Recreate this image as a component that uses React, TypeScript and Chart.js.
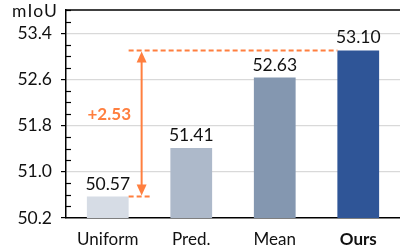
import React, { useEffect, useRef } from 'react';
import { Chart, registerables } from 'chart.js';

Chart.register(...registerables);

const categories = ['Uniform', 'Pred.', 'Mean', 'Ours'];
const values = [50.57, 51.41, 52.63, 53.1];
const barColors = ['#D6DCE5', '#ADB9CA', '#8497B0', '#2F5597'];
const yTicks = [50.2, 51.0, 51.8, 52.6, 53.4];
const yMin = 50.2;
const yMax = 53.8;
const minorStep = 0.2;
const gainLabel = '+2.53';
const yTitle = 'mIoU';
const boldCategory = 'Ours';

const FONT = 'Lato, "Open Sans", sans-serif';
const ORANGE = '#FF7F3F';
const TEXT = '#111111';

const overlayPlugin = {
  id: 'overlay',
  afterDatasetsDraw(chart: any) {
    const { ctx, chartArea } = chart;
    const yScale = chart.scales.y;
    const meta = chart.getDatasetMeta(0);
    ctx.save();

    // top border
    ctx.strokeStyle = '#000';
    ctx.lineWidth = 1.5;
    ctx.beginPath();
    ctx.moveTo(chartArea.left, chartArea.top);
    ctx.lineTo(chartArea.right, chartArea.top);
    ctx.stroke();

    // minor ticks (inside)
    const n = Math.round((yMax - yMin) / minorStep);
    ctx.lineWidth = 1.2;
    for (let k = 1; k <= n; k++) {
      const v = yMin + k * minorStep;
      const isMajor = yTicks.some((t) => Math.abs(t - v) < 1e-6);
      if (isMajor) continue;
      const py = Math.round(yScale.getPixelForValue(v)) + 0.5;
      ctx.beginPath();
      ctx.moveTo(chartArea.left, py);
      ctx.lineTo(chartArea.left + 5, py);
      ctx.stroke();
    }

    // value labels
    ctx.fillStyle = TEXT;
    ctx.font = `17.5px ${FONT}`;
    ctx.textAlign = 'center';
    ctx.textBaseline = 'alphabetic';
    meta.data.forEach((bar: any, i: number) => {
      ctx.fillText(values[i].toFixed(2), bar.x, bar.y - 7);
    });

    // y title
    ctx.textAlign = 'left';
    ctx.font = `17.5px ${FONT}`;
    (ctx as any).letterSpacing = '1.2px';
    ctx.fillText(yTitle, 12, 17);
    (ctx as any).letterSpacing = '0px';

    // annotation
    const b0 = meta.data[0];
    const b3 = meta.data[3];
    const x0 = b0.x + b0.width / 2;
    const x3 = b3.x - b3.width / 2;
    const yTop = yScale.getPixelForValue(values[3]);
    const yBot = yScale.getPixelForValue(values[0]);
    ctx.strokeStyle = ORANGE;
    ctx.fillStyle = ORANGE;
    ctx.lineWidth = 2;
    ctx.setLineDash([5, 3]);
    ctx.beginPath();
    ctx.moveTo(x0, yTop);
    ctx.lineTo(x3, yTop);
    ctx.stroke();
    ctx.beginPath();
    ctx.moveTo(x0, yBot);
    ctx.lineTo(x0 + 24, yBot);
    ctx.stroke();
    ctx.setLineDash([]);

    const ax = x0 + 13;
    const head = 11;
    const hw = 5;
    const tipTop = yTop + 1;
    const tipBot = yBot - 1;
    ctx.beginPath();
    ctx.moveTo(ax, tipTop + head - 1);
    ctx.lineTo(ax, tipBot - head + 1);
    ctx.stroke();
    ctx.beginPath();
    ctx.moveTo(ax, tipTop);
    ctx.lineTo(ax - hw, tipTop + head);
    ctx.lineTo(ax + hw, tipTop + head);
    ctx.closePath();
    ctx.fill();
    ctx.beginPath();
    ctx.moveTo(ax, tipBot);
    ctx.lineTo(ax - hw, tipBot - head);
    ctx.lineTo(ax + hw, tipBot - head);
    ctx.closePath();
    ctx.fill();

    ctx.font = `bold 17px ${FONT}`;
    ctx.textAlign = 'center';
    ctx.textBaseline = 'middle';
    const midY = (yTop + yBot) / 2 - 9;
    ctx.fillText(gainLabel, b0.x + 1.5, midY);

    ctx.restore();
  },
};

export default function App() {
  const ref = useRef<HTMLCanvasElement>(null);
  useEffect(() => {
    document.body.style.margin = '0';
    const chart = new Chart(ref.current as HTMLCanvasElement, {
      type: 'bar',
      data: {
        labels: categories,
        datasets: [
          {
            data: values,
            backgroundColor: barColors,
            barPercentage: 0.5,
            categoryPercentage: 1,
          },
        ],
      },
      options: {
        responsive: false,
        animation: false,
        devicePixelRatio: 1,
        layout: { padding: { top: 10, right: 0, left: 0, bottom: 0 } },
        plugins: { legend: { display: false }, tooltip: { enabled: false } },
        scales: {
          x: {
            afterFit: (s: any) => {
              s.height = 30;
              s.paddingLeft = 0;
              s.paddingRight = 0;
            },
            grid: { display: false },
            border: { display: true, color: '#000', width: 1.5 },
            ticks: {
              padding: 3,
              color: TEXT,
              font: (ctx: any) => ({
                family: FONT,
                size: 17,
                weight: categories[ctx.index] === boldCategory ? 'bold' : 'normal',
              }),
            },
          },
          y: {
            min: yMin,
            max: yMax,
            afterBuildTicks: (s: any) => {
              s.ticks = yTicks.map((v) => ({ value: v }));
            },
            afterFit: (s: any) => {
              s.width = 66;
              s.paddingTop = 0;
              s.paddingBottom = 0;
            },
            grid: {
              color: (ctx: any) =>
                ctx.tick && Math.abs(ctx.tick.value - yMin) < 1e-6 ? 'rgba(0,0,0,0)' : '#D9D9D9',
              lineWidth: 1.2,
              drawTicks: true,
              tickLength: 5,
              tickColor: '#000',
              tickWidth: 1.2,
            },
            border: { display: true, color: '#000', width: 1.5 },
            ticks: {
              padding: 9,
              color: TEXT,
              font: { family: FONT, size: 17.5 },
              callback: (v: any) => Number(v).toFixed(1),
            },
          },
        },
      },
      plugins: [overlayPlugin],
    } as any);
    return () => chart.destroy();
  }, []);
  return (
    <div style={{ position: 'fixed', left: 0, top: 0, width: 400, height: 248 }}>
      <canvas ref={ref} width={400} height={248} />
    </div>
  );
}
